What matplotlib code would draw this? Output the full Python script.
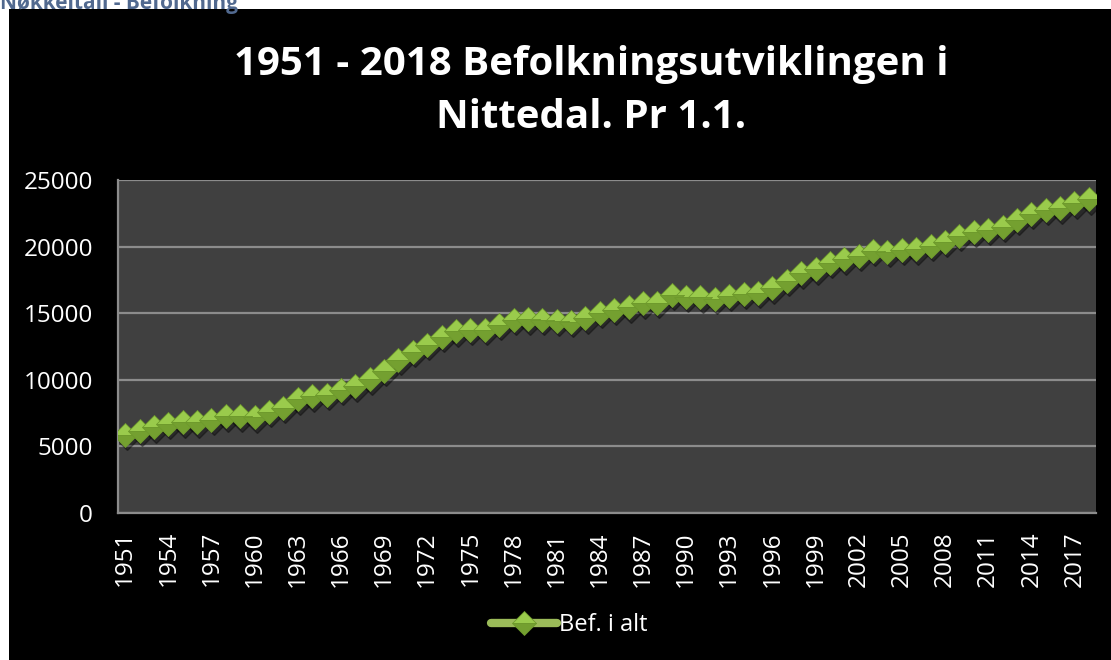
import matplotlib.pyplot as plt
import matplotlib.patches as patches
import matplotlib.transforms as mtransforms
import numpy as np

# Befolkning i Nittedal pr 1.1.
years = list(range(1951, 2019))
bef_i_alt = [5870, 6170, 6420, 6700, 6800, 6800, 7000, 7250, 7250, 7200,
             7620, 7920, 8550, 8750, 8870, 9250, 9500, 10050, 10680, 11500,
             12120, 12630, 13250, 13630, 13750, 13750, 14130, 14500, 14550, 14500,
             14420, 14370, 14620, 15050, 15250, 15450, 15750, 15800, 16370, 16250,
             16200, 16070, 16300, 16450, 16550, 16870, 17420, 18000, 18300, 18800,
             19050, 19300, 19700, 19630, 19750, 19800, 20050, 20380, 20800, 21130,
             21250, 21500, 22000, 22450, 22750, 22880, 23250, 23550]
y_ticks = [0, 5000, 10000, 15000, 20000, 25000]
title = "1951 - 2018 Befolkningsutviklingen i\nNittedal. Pr 1.1."
series_name = "Bef. i alt"

W, H = 1111, 660
fig = plt.figure(figsize=(W / 100, H / 100), dpi=100, facecolor="white")

# black chart area (white strip on top and left)
fig.patches.append(patches.Rectangle((9 / W, 0), 1 - 9 / W, 1 - 9 / H,
                                     transform=fig.transFigure, facecolor="black",
                                     edgecolor="none", zorder=-1))
# heading from the page above, mostly cut off
fig.text(0.0, 1 - 3 / H, "Nøkkeltall - Befolkning", color="#51698F", fontsize=15,
         fontweight="bold", family="Open Sans", ha="left", va="center")

ax = fig.add_axes([118 / W, (H - 513) / H, (1096 - 118) / W, (513 - 180) / H])
ax.set_facecolor("#404040")

x = np.arange(len(years))

# soft shadow under the markers
shadow = mtransforms.offset_copy(ax.transData, fig=fig, x=1.5, y=-2.5, units="points")
ax.plot(x, bef_i_alt, linestyle="none", marker="D", markersize=12,
        color="black", alpha=0.35, transform=shadow, zorder=2)

ax.plot(x, bef_i_alt, color="#9BBB59", lw=6, solid_capstyle="round",
        marker="D", markersize=12, fillstyle="top",
        markerfacecolor="#9ACB4C", markerfacecoloralt="#74A030",
        markeredgecolor="#6E9A2C", markeredgewidth=0.6,
        label=series_name, zorder=3)

ax.set_xlim(-0.5, len(years) - 0.5)
ax.set_ylim(0, 25000)
ax.set_yticks(y_ticks)
ax.set_xticks(x[::3])
ax.set_xticklabels([str(y) for y in years[::3]], rotation=90)

ax.grid(axis="y", color="#8C8C8C", lw=1.6)
ax.set_axisbelow(True)
for side in ["top", "right"]:
    ax.spines[side].set_visible(False)
for side in ["left", "bottom"]:
    ax.spines[side].set_color("#8C8C8C")
    ax.spines[side].set_linewidth(1.6)

ax.tick_params(length=0, colors="white", labelsize=17.5)
for lab in ax.get_xticklabels() + ax.get_yticklabels():
    lab.set_family("Open Sans")
ax.tick_params(axis="x", pad=13)
ax.tick_params(axis="y", pad=18)

fig.text(591 / W, 1 - 91 / H, title, color="white", fontsize=29, fontweight="bold",
         family="Open Sans", ha="center", va="center", linespacing=1.5)

leg = fig.legend(loc="center", bbox_to_anchor=(569 / W, 1 - 625 / H),
                 frameon=False, handlelength=2.8, handletextpad=0.1,
                 prop={"family": "Open Sans", "size": 17})
for t in leg.get_texts():
    t.set_color("white")

fig.savefig("out.png", dpi=100, facecolor=fig.get_facecolor())
